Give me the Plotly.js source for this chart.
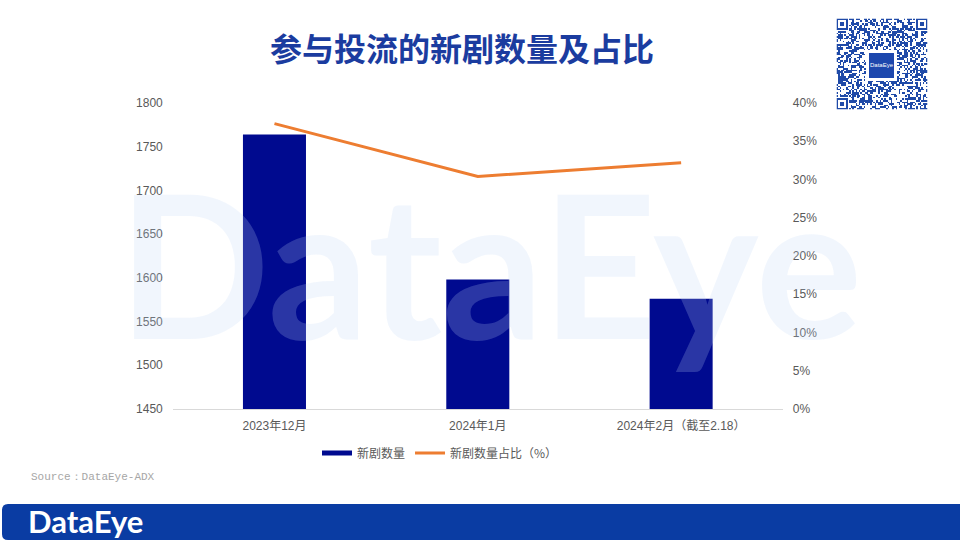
<!DOCTYPE html>
<html>
<head>
<meta charset="utf-8">
<script src="https://cdn.plot.ly/plotly-3.0.1.min.js"></script>
<style>
  html, body { margin: 0; padding: 0; background: #ffffff; }
  #chart { width: 960px; height: 540px; }
</style>
</head>
<body>
<div id="chart"></div>
<script>
// Monthly count of new short dramas placed in paid traffic, and their share
const months = ['2023年12月', '2024年1月', '2024年2月（截至2.18）'];
const newDramaCount = [1764, 1598, 1576];
const newDramaShare = [0.373, 0.304, 0.322];
const countTicks = [1450, 1500, 1550, 1600, 1650, 1700, 1750, 1800];
const shareTicks = [0, 0.05, 0.10, 0.15, 0.20, 0.25, 0.30, 0.35, 0.40];
const seriesNames = ['新剧数量', '新剧数量占比（%）'];
const chartTitle = '参与投流的新剧数量及占比';
const sourceNote = 'Source：DataEye-ADX';
const brand = 'DataEye';

// page pixel -> paper fraction (margins are zero, so paper = whole page)
const W = 960, H = 540;
const fx = p => p / W;
const fy = p => 1 - p / H;

const NAVY = '#000a8f';
const ORANGE = '#ed7d31';
const BRAND_BLUE = '#0a3ca3';
const TICK_FONT = { family: 'Liberation Sans, Noto Sans CJK SC, sans-serif', size: 12, color: '#595959' };

// decorative QR-style badge: finder squares + hashed module fill
const N = 57;
function finder(r, c) {
  const zones = [[0, 0], [0, N - 7], [N - 7, 0]];
  for (const [r0, c0] of zones) {
    if (r >= r0 - 1 && r <= r0 + 7 && c >= c0 - 1 && c <= c0 + 7) {
      const dr = Math.abs(r - (r0 + 3)), dc = Math.abs(c - (c0 + 3));
      const d = Math.max(dr, dc);
      if (d === 3 || d <= 1) return 1;
      return 0;
    }
  }
  return -1;
}
function moduleBit(r, c) {
  const f = finder(r, c);
  if (f >= 0) return f;
  let h = Math.imul(r + 1, 0x27d4eb2d) ^ Math.imul(c + 7, 0x165667b1);
  h ^= h >>> 15; h = Math.imul(h, 0x85ebca6b); h ^= h >>> 13;
  return (h >>> 3) & 1;
}
const qrZ = [];
for (let r = 0; r < N; r++) {
  const row = [];
  for (let c = 0; c < N; c++) row.push(moduleBit(r, c));
  qrZ.push(row);
}

const traces = [
  {
    type: 'bar', x: months, y: newDramaCount, name: seriesNames[0],
    marker: { color: NAVY }, showlegend: false, xaxis: 'x', yaxis: 'y',
    hoverinfo: 'x+y'
  },
  {
    // legend key for the bars, drawn as a thick stroke
    type: 'scatter', mode: 'lines', x: [null], y: [null], name: seriesNames[0],
    line: { color: NAVY, width: 5 }, xaxis: 'x', yaxis: 'y', hoverinfo: 'skip'
  },
  {
    type: 'scatter', mode: 'lines', x: months, y: newDramaShare, name: seriesNames[1],
    line: { color: ORANGE, width: 3 }, xaxis: 'x', yaxis: 'y2', hoverinfo: 'x+y'
  },
  {
    type: 'heatmap', z: qrZ, xaxis: 'x3', yaxis: 'y3', showscale: false,
    colorscale: [[0, '#ffffff'], [1, '#1f4aa8']], zmin: 0, zmax: 1, hoverinfo: 'skip'
  }
];

function rectPath(x0, y0, x1, y1, r) {
  // rounded-left rectangle in page pixels, emitted in paper units
  const P = (x, y) => fx(x) + ',' + fy(y);
  return 'M' + P(x0 + r, y0) + ' L' + P(x1, y0) + ' L' + P(x1, y1) + ' L' + P(x0 + r, y1) +
         ' Q' + P(x0, y1) + ' ' + P(x0, y1 - r) + ' L' + P(x0, y0 + r) +
         ' Q' + P(x0, y0) + ' ' + P(x0 + r, y0) + ' Z';
}

const layout = {
  width: W, height: H,
  margin: { l: 0, r: 0, t: 0, b: 0, pad: 0 },
  paper_bgcolor: '#ffffff', plot_bgcolor: 'rgba(0,0,0,0)',
  showlegend: true,
  bargap: 0.69,
  title: {
    text: '<b>' + chartTitle + '</b>',
    x: fx(462), xanchor: 'center', y: fy(50), yanchor: 'middle', yref: 'container',
    font: { family: 'Noto Sans CJK SC, sans-serif', size: 32, color: '#1b3c9f' }
  },
  xaxis: {
    domain: [fx(172.8), fx(782.8)], anchor: 'y', type: 'category',
    showline: true, linecolor: '#d9d9d9', linewidth: 1, showgrid: false, zeroline: false,
    ticks: '', tickfont: TICK_FONT, ticklabelstandoff: 6
  },
  yaxis: {
    domain: [fy(409), fy(103)], anchor: 'x', range: [1450, 1800],
    tickvals: countTicks, showgrid: false, zeroline: false, showline: false,
    ticks: '', tickfont: TICK_FONT, ticklabelstandoff: 9
  },
  yaxis2: {
    overlaying: 'y', side: 'right', anchor: 'x', range: [0, 0.4],
    tickvals: shareTicks, tickformat: '.0%', showgrid: false, zeroline: false, showline: false,
    ticks: '', tickfont: TICK_FONT, ticklabelstandoff: 9
  },
  xaxis3: { domain: [fx(836.5), fx(927.5)], anchor: 'y3', visible: false, fixedrange: true },
  yaxis3: { domain: [fy(109.5), fy(18.5)], anchor: 'x3', visible: false, fixedrange: true, autorange: 'reversed' },
  legend: {
    orientation: 'h', x: fx(440), xanchor: 'center', y: fy(453), yanchor: 'middle',
    font: { family: 'Noto Sans CJK SC, sans-serif', size: 12, color: '#595959' },
    bgcolor: 'rgba(0,0,0,0)', itemwidth: 30, tracegroupgap: 0
  },
  shapes: [
    { type: 'path', xref: 'paper', yref: 'paper', path: rectPath(2, 504, 961, 540, 6),
      fillcolor: BRAND_BLUE, line: { width: 0 }, layer: 'above' },
    { type: 'rect', xref: 'paper', yref: 'paper', x0: fx(866), x1: fx(897), y0: fy(50), y1: fy(81),
      fillcolor: '#ffffff', line: { width: 0 }, layer: 'above' },
    { type: 'rect', xref: 'paper', yref: 'paper', x0: fx(869), x1: fx(894), y0: fy(53), y1: fy(78),
      fillcolor: '#1d47ad', line: { width: 0 }, layer: 'above' }
  ],
  annotations: [
    { text: brand, xref: 'paper', yref: 'paper', x: fx(490), y: fy(262), xanchor: 'center', yanchor: 'middle',
      showarrow: false, font: { family: 'Lato, sans-serif', size: 200, weight: 700, color: 'rgba(190,215,245,0.22)' } },
    { text: sourceNote, xref: 'paper', yref: 'paper', x: fx(29), y: fy(477), xanchor: 'left', yanchor: 'middle',
      showarrow: false, font: { family: 'Liberation Mono, DejaVu Sans Mono, monospace', size: 11, color: '#a6a6a6' } },
    { text: brand, xref: 'paper', yref: 'paper', x: fx(26), y: fy(521), xanchor: 'left', yanchor: 'middle',
      showarrow: false, font: { family: 'Lato, sans-serif', size: 31, weight: 700, color: '#ffffff' } },
    { text: brand, xref: 'paper', yref: 'paper', x: fx(881.5), y: fy(65.5), xanchor: 'center', yanchor: 'middle',
      showarrow: false, font: { family: 'Liberation Sans, sans-serif', size: 6, color: '#ffffff' } }
  ]
};

Plotly.newPlot('chart', traces, layout, { displayModeBar: false, staticPlot: true });
</script>
</body>
</html>
